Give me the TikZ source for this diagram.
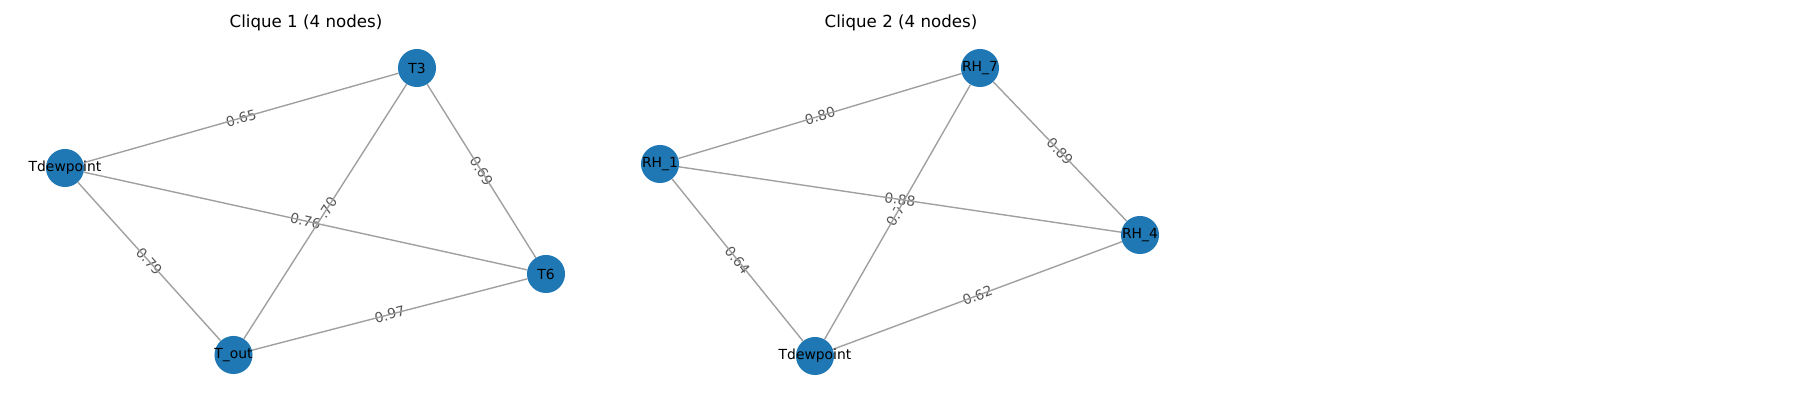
\documentclass[tikz,border=0pt]{standalone}
\usepackage{fontspec}
\setmainfont{DejaVu Sans}
\pgfdeclarelayer{bgl}
\pgfdeclarelayer{labl}
\pgfdeclarelayer{edges}
\pgfsetlayers{bgl,labl,edges,main}
\definecolor{nodeblue}{HTML}{1F77B4}
\definecolor{edgegray}{HTML}{A0A0A0}
\definecolor{labgray}{HTML}{555555}
\tikzset{
  vtx/.style={circle, fill=nodeblue, draw=none, minimum size=27.4pt, inner sep=0pt},
  nlab/.style={font=\fontsize{10}{12}\selectfont, text=black, inner sep=0pt},
  elab/.style={font=\fontsize{10}{12}\selectfont, text=labgray, fill=white, inner sep=2pt, rounded corners=2pt, midway, sloped},
  edg/.style={draw=edgegray, line width=1pt},
  ttl/.style={font=\fontsize{12}{14}\selectfont, text=black, inner sep=0pt}
}
\begin{document}
\begin{tikzpicture}[x=0.72pt, y=-0.72pt]
\useasboundingbox (0,0) rectangle (1800,400);
\begin{pgfonlayer}{bgl}
\fill[white] (0,0) rectangle (1800,400);
\end{pgfonlayer}
% titles
\node[ttl] (t1) at (306,23) {Clique 1 (4 nodes)};
\node[ttl] (t2) at (901,23) {Clique 2 (4 nodes)};
% clique 1 nodes
\node[vtx, label={[nlab]center:T3}] (T3) at (417,68) {};
\node[vtx, label={[nlab]center:Tdewpoint}] (Td1) at (65,168) {};
\node[vtx, label={[nlab]center:T6}] (T6) at (546,274) {};
\node[vtx, label={[nlab]center:T\_out}] (Tout) at (233.5,355) {};
% clique 2 nodes
\node[vtx, label={[nlab]center:RH\_7}] (RH7) at (980,68) {};
\node[vtx, label={[nlab]center:RH\_1}] (RH1) at (660,164) {};
\node[vtx, label={[nlab]center:RH\_4}] (RH4) at (1140,235) {};
\node[vtx, label={[nlab]center:Tdewpoint}] (Td2) at (815,356) {};
\begin{pgfonlayer}{edges}
\draw[edg] (Td1) -- (T3);
\draw[edg] (T3) -- (T6);
\draw[edg] (T3) -- (Tout);
\draw[edg] (Td1) -- (T6);
\draw[edg] (Td1) -- (Tout);
\draw[edg] (Tout) -- (T6);
\draw[edg] (RH1) -- (RH7);
\draw[edg] (RH7) -- (RH4);
\draw[edg] (RH7) -- (Td2);
\draw[edg] (RH1) -- (RH4);
\draw[edg] (RH1) -- (Td2);
\draw[edg] (Td2) -- (RH4);
\end{pgfonlayer}
\begin{pgfonlayer}{labl}
\path (Td1) -- (T3) node[elab] (l1) {0.65};
\path (T3) -- (T6) node[elab] (l2) {0.69};
\path (T3) -- (Tout) node[elab] (l3) {0.70};
\path (Td1) -- (T6) node[elab] (l4) {0.76};
\path (Td1) -- (Tout) node[elab] (l5) {0.79};
\path (Tout) -- (T6) node[elab] (l6) {0.97};
\path (RH1) -- (RH7) node[elab] (m1) {0.80};
\path (RH7) -- (RH4) node[elab] (m2) {0.89};
\path (RH7) -- (Td2) node[elab] (m3) {0.71};
\path (RH1) -- (RH4) node[elab] (m4) {0.88};
\path (RH1) -- (Td2) node[elab] (m5) {0.64};
\path (Td2) -- (RH4) node[elab] (m6) {0.62};
\end{pgfonlayer}
\end{tikzpicture}
\end{document}
